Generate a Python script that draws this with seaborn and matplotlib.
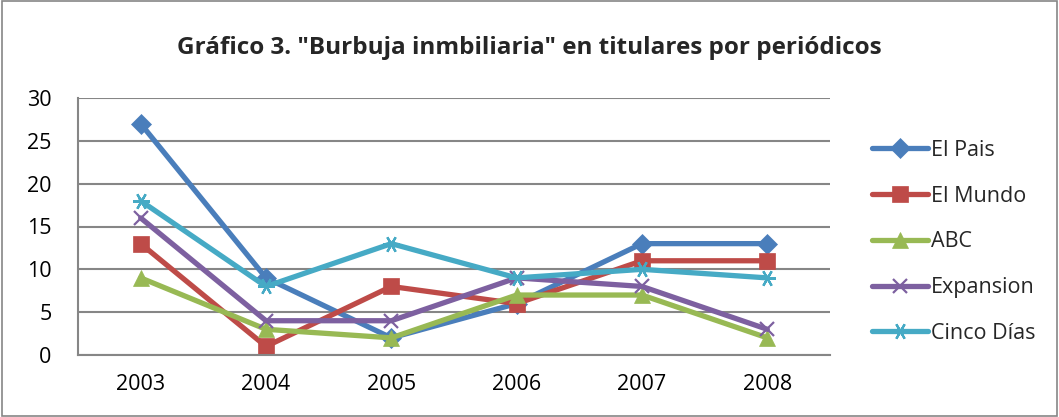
import matplotlib
matplotlib.use("Agg")
import matplotlib.pyplot as plt
import seaborn as sns
import pandas as pd
from matplotlib.lines import Line2D
from matplotlib.patches import Rectangle

years = ["2003", "2004", "2005", "2006", "2007", "2008"]
el_pais = [27, 9, 2, 6, 13, 13]
el_mundo = [13, 1, 8, 6, 11, 11]
abc = [9, 3, 2, 7, 7, 2]
expansion = [16, 4, 4, 9, 8, 3]
cinco_dias = [18, 8, 13, 9, 10, 9]
series_names = ["El Pais", "El Mundo", "ABC", "Expansion", "Cinco Días"]
title = 'Gráfico 3. "Burbuja inmbiliaria" en titulares por periódicos'

colors = ["#4A7EBB", "#BE4B48", "#98B954", "#7D60A0", "#46AAC5"]
markers = ["D", "s", "^", "x", (6, 2, 90)]
msizes = [10, 11, 11, 10, 12]

sns.set_theme(style="white")
plt.rcParams["font.family"] = ["Open Sans", "DejaVu Sans"]

rows = []
for name, vals in zip(series_names, [el_pais, el_mundo, abc, expansion, cinco_dias]):
    for i, (y, v) in enumerate(zip(years, vals)):
        rows.append({"pos": i, "year": y, "value": v, "serie": name})
df = pd.DataFrame(rows)

fig = plt.figure(figsize=(10.59, 4.17), dpi=100)
ax = fig.add_axes([78/1059, 1-355/417, (830-78)/1059, (355-98)/417])

def mew(m):
    return 1.6 if m in ("x", (6, 2, 90)) else 0.5

for name, c, m, ms in zip(series_names, colors, markers, msizes):
    sub = df[df["serie"] == name]
    sns.lineplot(data=sub, x="pos", y="value", ax=ax, color=c, linewidth=3.8,
                 marker=m, markersize=ms, markeredgecolor=c, markeredgewidth=mew(m),
                 legend=False)

ax.set_xlim(-0.5, 5.5)
ax.set_ylim(0, 30)
ax.set_yticks(range(0, 31, 5))
ax.set_xticks(range(6))
ax.set_xticklabels(years)
ax.set_xlabel("")
ax.set_ylabel("")
ax.yaxis.grid(True, color="#868686", linewidth=1.5)
ax.set_axisbelow(True)
for s in ["top", "right"]:
    ax.spines[s].set_visible(False)
for s in ["left", "bottom"]:
    ax.spines[s].set_color("#868686")
    ax.spines[s].set_linewidth(1.5)
ax.tick_params(axis="both", labelsize=15.5, colors="black", length=0)
ax.tick_params(axis="x", pad=14)
ax.tick_params(axis="y", pad=19)

fig.text(0.5, 1-48/417, title, ha="center", va="center", fontsize=17.5, fontweight="bold")

handles = [Line2D([0], [0], color=c, linewidth=3.8, marker=m, markersize=ms,
                  markeredgecolor=c, markeredgewidth=mew(m))
           for c, m, ms in zip(colors, markers, msizes)]
fig.legend(handles, series_names, loc="center left", bbox_to_anchor=(872/1059, 1-242/417),
           frameon=False, fontsize=15.5, handlelength=2.6, handletextpad=0.15,
           labelspacing=1.15, borderpad=0, borderaxespad=0)

fig.patches.append(Rectangle((0.002, 0.002), 0.996, 0.996, transform=fig.transFigure,
                             fill=False, edgecolor="#868686", linewidth=1.2))

fig.savefig("out.png", dpi=100)
